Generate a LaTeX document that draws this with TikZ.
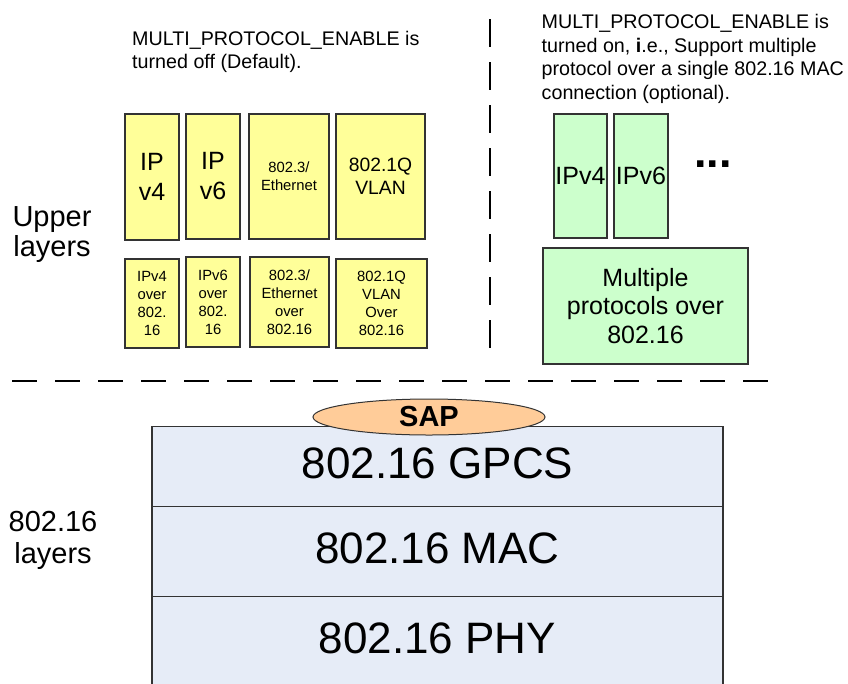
\documentclass[tikz,border=0pt]{standalone}
\usepackage{fontspec}
\setmainfont{Liberation Sans}
\usetikzlibrary{shapes.geometric}
\definecolor{ylw}{HTML}{FFFF99}
\definecolor{grn}{HTML}{CCFFCC}
\definecolor{layc}{HTML}{E6ECF7}
\definecolor{sapc}{HTML}{FFCC99}
\definecolor{edge}{HTML}{333333}
\newcommand\fsz[2]{\fontsize{#1}{#2}\selectfont}
\begin{document}
\begin{tikzpicture}[x=1pt,y=-1pt,
  ybox/.style={draw=edge, line width=1.1pt, fill=ylw, inner sep=0pt, align=center},
  gbox/.style={draw=edge, line width=1.1pt, fill=grn, inner sep=0pt, align=center},
  layer/.style={draw=edge, line width=1.1pt, fill=layc, inner sep=0pt, minimum width=571pt, anchor=north},
  laytext/.style={anchor=base, inner sep=0pt, font=\fsz{44}{50}},
  sepline/.style={line width=2pt, black},
  note/.style={anchor=north west, inner sep=0pt, align=left, font=\fsz{19.7}{23.5}},
  side/.style={anchor=north, inner sep=0pt, align=center}]
\useasboundingbox (0,0) rectangle (848,683);
\fill[white] (0,0) rectangle (848,683);

% notes
\node[note] (noteL) at (132,30.9) {MULTI\_PROTOCOL\_ENABLE is\\turned off (Default).};
\node[note] (noteR) at (541.5,14.2) {MULTI\_PROTOCOL\_ENABLE is\\turned on, \textbf{i}.e., Support multiple\\protocol over a single 802.16 MAC\\connection (optional).};

% side labels
\node[side, font=\fsz{29}{30}] (upper) at (52,206.2) {Upper\\layers};
\node[side, font=\fsz{29}{32}] (lower) at (53,511.2) {802.16\\layers};

% separators
\coordinate (vtop) at (490,19);
\coordinate (vbot) at (490,348);
\coordinate (hl) at (12,381);
\coordinate (hr) at (768,381);
\draw[sepline, dash pattern=on 28pt off 15pt] (vtop) -- (vbot);
\draw[sepline, dash pattern=on 25pt off 18pt] (hl) -- (hr);

% yellow, top row
\node[ybox, minimum width=54pt, minimum height=126pt, font=\fsz{25}{30}] (ip4) at (152,177) {IP\\v4};
\node[ybox, minimum width=54pt, minimum height=125pt, font=\fsz{25}{30}] (ip6) at (213,176.5) {IP\\v6};
\node[ybox, minimum width=80pt, minimum height=125pt, font=\fsz{14.8}{18}] (eth) at (289,176.5) {802.3/\\Ethernet};
\node[ybox, minimum width=89pt, minimum height=125pt, font=\fsz{19.3}{23}] (vlan) at (380.5,176.5) {802.1Q\\VLAN};

% yellow, bottom row
\node[ybox, minimum width=54pt, minimum height=89pt, font=\fsz{14.8}{18}] (ip4o) at (152,303.5) {IPv4\\over\\802.\\16};
\node[ybox, minimum width=54pt, minimum height=90pt, font=\fsz{14.8}{18}] (ip6o) at (213,302) {IPv6\\over\\802.\\16};
\node[ybox, minimum width=79pt, minimum height=90pt, font=\fsz{14.8}{18}] (etho) at (289.5,302) {802.3/\\Ethernet\\over\\802.16};
\node[ybox, minimum width=91pt, minimum height=89pt, font=\fsz{14.8}{18}] (vlano) at (381.5,303.5) {802.1Q\\VLAN\\Over\\802.16};

% green
\node[gbox, minimum width=53pt, minimum height=124pt, font=\fsz{25}{28.5}] (gip4) at (580.5,176) {IPv4};
\node[gbox, minimum width=54pt, minimum height=124pt, font=\fsz{25}{28.5}] (gip6) at (641,176) {IPv6};
\node[anchor=base, inner sep=0pt, font=\fsz{45}{50}\bfseries] (dots) at (713,167.5) {...};
\node[gbox, minimum width=205pt, minimum height=116pt, font=\fsz{25}{28.5}] (multi) at (645.5,306) {Multiple\\protocols over\\802.16};

% 802.16 stack
\node[layer, minimum height=80pt] (gpcs) at (437.5,426) {};
\node[layer, minimum height=90pt] (mac) at (437.5,506) {};
\node[layer, minimum height=100pt] (phy) at (437.5,596) {};
\node[laytext] (gpcst) at (437.5,478.3) {802.16 GPCS};
\node[laytext] (mact) at (437.5,563) {802.16 MAC};
\node[laytext] (phyt) at (437.5,653) {802.16 PHY};

% SAP
\node[ellipse, draw=edge, line width=1pt, fill=sapc, minimum width=232pt, minimum height=36pt, inner sep=0pt, font=\fsz{29}{30}\bfseries] (sap) at (429,417) {SAP};
\end{tikzpicture}
\end{document}
